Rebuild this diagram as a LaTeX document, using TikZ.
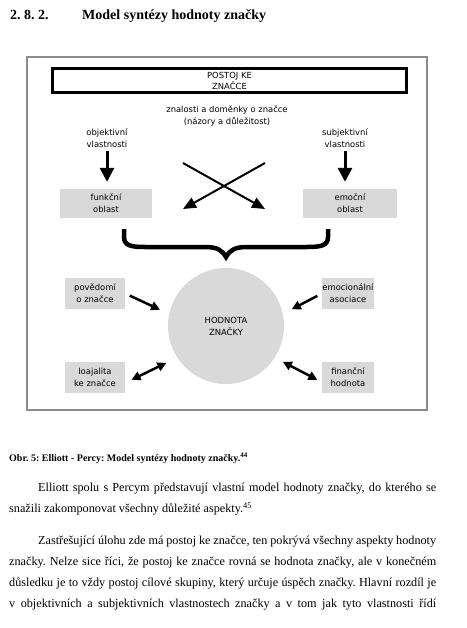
\documentclass[tikz,border=0pt]{standalone}
\usepackage{fontspec}
\setmainfont{Liberation Serif}
\newfontfamily\diagfont{DejaVu Sans}
\usetikzlibrary{arrows.meta}
\frenchspacing

\definecolor{boxgray}{HTML}{D9D9D9}
\definecolor{framegray}{HTML}{8C8C8C}

\tikzset{
  diagtext/.style={font=\diagfont\fontsize{8.4}{12}\selectfont, align=center},
  oblast/.style={diagtext, fill=boxgray, inner sep=0pt},
  downarrow/.style={line width=3pt, -{Triangle[length=14pt,width=14pt]}},
  crossarrow/.style={line width=2pt, -{Triangle[length=13pt,width=11pt]}},
  smallarrow/.style={line width=2.5pt, -{Triangle[length=9pt,width=9pt]}},
  botharrow/.style={line width=2.5pt, {Triangle[length=9pt,width=9pt]}-{Triangle[length=9pt,width=9pt]}}
}

\begin{document}
\begin{tikzpicture}[x=1pt,y=-1pt]
  \useasboundingbox[fill=white] (0,0) rectangle (466,628);
  % heading
  \node[anchor=base west, inner sep=0pt, font=\bfseries\fontsize{14}{16}\selectfont] (num) at (10,19.5) {2. 8. 2.};
  \node[anchor=base west, inner sep=0pt, font=\bfseries\fontsize{14}{16}\selectfont] (title) at (82,19.5) {Model syntézy hodnoty značky};
  % figure frame
  \draw[framegray, line width=1.3pt] (27,57) rectangle (427,410);
  % attitude bar
  \node[diagtext, draw, line width=3pt, minimum width=354, minimum height=24, inner sep=0pt,
        font=\diagfont\fontsize{8.4}{11}\selectfont] (postoj) at (229.5,80.5) {POSTOJ KE\\ZNAČCE};
  \node[diagtext] (znalosti) at (227,116) {znalosti a doměnky o značce\\(názory a důležitost)};
  \node[diagtext] (obj) at (107,138) {objektivní\\vlastnosti};
  \node[diagtext] (subj) at (345,138) {subjektivní\\vlastnosti};
  % areas
  \node[oblast, minimum width=92, minimum height=29] (funk) at (106,203.5) {funkční\\oblast};
  \node[oblast, minimum width=94, minimum height=29] (emoc) at (350,203.5) {emoční\\oblast};
  \draw[downarrow, shorten >=7pt] (obj.south) -- (obj.south |- funk.north);
  \draw[downarrow, shorten >=7pt] (subj.south) -- (subj.south |- emoc.north);
  % crossing arrows
  \coordinate (xa) at (183,163);
  \coordinate (xb) at (265,163);
  \coordinate (xc) at (183,209);
  \coordinate (xd) at (265,209);
  \draw[crossarrow] (xa) -- (xd);
  \draw[crossarrow] (xb) -- (xc);
  % brace
  \draw[line width=4.5pt] (124,229) -- (124,237) .. controls (124,246) and (132,247) .. (145,247)
    -- (205,247) .. controls (217,247) and (222,250) .. (226,257)
    .. controls (230,250) and (235,247) .. (247,247) -- (307,247)
    .. controls (320,247) and (328,246) .. (328,237) -- (328,229);
  % brand value
  \node[diagtext, circle, fill=boxgray, minimum size=116, inner sep=0pt] (hodnota) at (226,326) {HODNOTA\\ZNAČKY};
  \node[oblast, minimum width=60, minimum height=31] (povedomi) at (95,293.5) {povědomí\\o značce};
  \node[oblast, minimum width=52, minimum height=31] (asociace) at (348,293.5) {emocionální\\asociace};
  \node[oblast, minimum width=60, minimum height=31] (loajalita) at (95,377.5) {loajalita\\ke značce};
  \node[oblast, minimum width=52, minimum height=31] (financni) at (348,377.5) {finanční\\hodnota};
  \draw[smallarrow, shorten <=5pt, shorten >=10pt] (povedomi.east) -- (hodnota.168);
  \draw[smallarrow, shorten <=5pt, shorten >=10pt] (asociace.west) -- (hodnota.12);
  \draw[botharrow, shorten <=7pt, shorten >=12pt] (loajalita.-10) -- (hodnota.213);
  \draw[botharrow, shorten <=5pt, shorten >=9pt] (financni.190) -- (hodnota.-33);
  % caption and body text
  \node[anchor=base west, inner sep=0pt, font=\bfseries\fontsize{10}{12}\selectfont] (caption) at (9,461)
    {Obr. 5: Elliott - Percy: Model syntézy hodnoty značky.\textsuperscript{44}};
  \node[anchor=north west, inner sep=0pt, text width=427, align=justify, font=\fontsize{12.2}{21}\selectfont] (body) at (9,483)
    {\hspace*{29pt}Elliott spolu s~Percym představují vlastní model hodnoty značky, do kterého se\linebreak
     snažili zakomponovat všechny důležité aspekty.\textsuperscript{45}\par\vspace{11pt}
     \hspace*{29pt}Zastřešující úlohu zde má postoj ke značce, ten pokrývá všechny aspekty hodnoty\linebreak
     značky. Nelze sice říci, že postoj ke značce rovná se hodnota značky, ale v~konečném\linebreak
     důsledku je to vždy postoj cílové skupiny, který určuje úspěch značky. Hlavní rozdíl je\linebreak
     v~objektivních a subjektivních vlastnostech značky a v~tom jak tyto vlastnosti řídí\parfillskip=0pt\par};
\end{tikzpicture}
\end{document}
